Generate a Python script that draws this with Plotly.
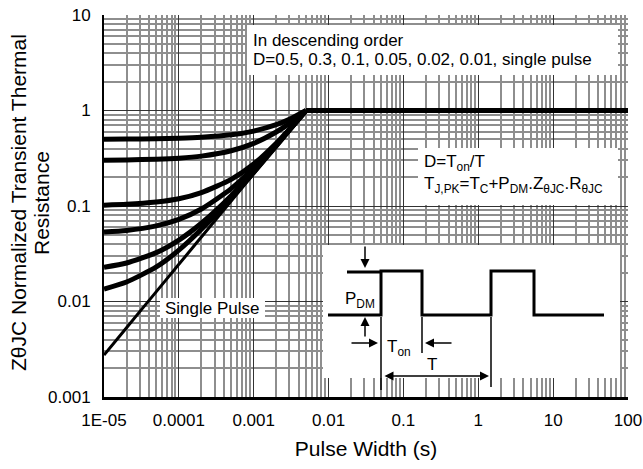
import plotly.graph_objects as go

# ---------------- data ----------------
pulse_width = [1e-5, 2e-5, 5e-5, 1e-4, 2e-4, 5e-4, 1e-3, 2e-3, 3e-3, 5e-3]
z_d050 = [0.501, 0.503, 0.506, 0.512, 0.524, 0.556, 0.609, 0.71, 0.809, 1.0]
z_d030 = [0.302, 0.304, 0.309, 0.317, 0.333, 0.379, 0.453, 0.595, 0.733, 1.0]
z_d010 = [0.102, 0.104, 0.110, 0.119, 0.138, 0.190, 0.275, 0.455, 0.635, 1.0]
z_d005 = [0.0535, 0.0555, 0.062, 0.0725, 0.093, 0.152, 0.25, 0.445, 0.635, 1.0]
z_d002 = [0.0228, 0.0253, 0.0325, 0.044, 0.066, 0.128, 0.232, 0.43, 0.625, 1.0]
z_d001 = [0.0135, 0.016, 0.023, 0.0345, 0.057, 0.121, 0.225, 0.425, 0.621, 1.0]
z_single = [0.00275, 0.00532, 0.0127, 0.0245, 0.0473, 0.113, 0.218, 0.421, 0.618, 1.0]

steady_width = [5e-3, 1e-2, 1e-1, 1, 10, 100]
steady_z = [1.0, 1.0, 1.0, 1.0, 1.0, 1.0]

x_tick_vals = [1e-5, 1e-4, 1e-3, 1e-2, 1e-1, 1, 10, 100]
x_tick_text = ["1E-05", "0.0001", "0.001", "0.01", "0.1", "1", "10", "100"]
y_tick_vals = [0.001, 0.01, 0.1, 1, 10]
y_tick_text = ["0.001", "0.01", "0.1", "1", "10"]

x_minor = [m * 10.0 ** k for k in range(-5, 2) for m in range(2, 10)]
y_minor = [m * 10.0 ** k for k in range(-3, 1) for m in range(2, 10)]

y_title_lines = ["ZθJC Normalized Transient Thermal", "Resistance"]

FONT = "Liberation Sans, Arial, sans-serif"

fig = go.Figure()

series = [z_d050, z_d030, z_d010, z_d005, z_d002, z_d001]
for s in series:
    fig.add_trace(go.Scatter(x=pulse_width, y=s, mode="lines",
                             line=dict(color="black", width=5, shape="spline", smoothing=0.6),
                             hoverinfo="skip"))
fig.add_trace(go.Scatter(x=pulse_width, y=z_single, mode="lines",
                         line=dict(color="black", width=3, shape="spline", smoothing=0.6),
                         hoverinfo="skip"))
fig.add_trace(go.Scatter(x=steady_width, y=steady_z, mode="lines",
                         line=dict(color="black", width=5), hoverinfo="skip"))

# ---------------- pixel -> paper helpers (layout only) ----------------
W, H = 643, 469
PL, PR, PT, PB = 104, 628, 15, 397   # plot area in pixels


def px(x):
    return (x - PL) / (PR - PL)


def py(y):
    return (PB - y) / (PB - PT)


shapes = []


def rect(x0, y0, x1, y1):
    shapes.append(dict(type="rect", xref="paper", yref="paper",
                       x0=px(x0), x1=px(x1), y0=py(y1), y1=py(y0),
                       fillcolor="white", line=dict(width=0), layer="above"))


def seg(x0, y0, x1, y1, w=1.5):
    shapes.append(dict(type="line", xref="paper", yref="paper",
                       x0=px(x0), x1=px(x1), y0=py(y0), y1=py(y1),
                       line=dict(color="black", width=w), layer="above"))


rect(247, 25, 618, 75)
rect(418, 148, 618, 205)
rect(160, 298, 265, 318)
rect(323, 245, 620, 378)

# pulse waveform
wave = [(328, 315), (381, 315), (381, 271), (422, 271), (422, 315), (491, 315),
        (491, 271), (534, 271), (534, 315), (604, 315)]
path = "M " + " L ".join(f"{px(a)},{py(b)}" for a, b in wave)
shapes.append(dict(type="path", xref="paper", yref="paper", path=path,
                   line=dict(color="black", width=3), layer="above"))
seg(347, 272, 381, 272, 3)
seg(381, 317, 381, 390)
seg(422, 317, 422, 353)
seg(491, 317, 491, 387)

annotations = []


def text(x, y, t, anchor="left", size=17, angle=0):
    annotations.append(dict(xref="paper", yref="paper", x=px(x), y=py(y), text=t,
                            showarrow=False, xanchor=anchor, yanchor="middle",
                            textangle=angle,
                            font=dict(family=FONT, size=size, color="black")))


def arrow(tx, ty, sx, sy, both=False):
    a = dict(xref="paper", yref="paper", x=px(tx), y=py(ty), ax=sx - tx, ay=sy - ty,
             text="", showarrow=True, arrowhead=2, arrowsize=1.2, arrowwidth=1.5,
             arrowcolor="black")
    if both:
        a.update(arrowside="end+start", startarrowhead=2, startarrowsize=1.2)
    annotations.append(a)


text(251, 40, "In descending order")
text(251, 59, "D=0.5, 0.3, 0.1, 0.05, 0.02, 0.01, single pulse")
text(422, 163, "D=T<sub>on</sub>/T")
text(422, 185, "T<sub>J,PK</sub>=T<sub>C</sub>+P<sub>DM</sub>.Z<sub>θJC</sub>.R<sub>θJC</sub>")
text(212, 308, "Single Pulse", anchor="center")
text(360, 300, "P<sub>DM</sub>", anchor="center")
text(399, 348, "T<sub>on</sub>", anchor="center")
text(432, 364, "T", anchor="center")

# y-axis title (two rotated lines)
text(18, 203, y_title_lines[0], anchor="center", size=21, angle=-90)
text(41, 203, y_title_lines[1], anchor="center", size=21, angle=-90)

arrow(365, 268, 365, 245)
arrow(365, 317, 365, 338)
arrow(378, 343, 350, 343)
arrow(425, 343, 453, 343)
arrow(489, 376, 383, 376, both=True)

fig.update_layout(
    width=W, height=H,
    margin=dict(l=PL, r=W - PR, t=PT, b=H - PB, autoexpand=False),
    plot_bgcolor="white", paper_bgcolor="white",
    showlegend=False,
    font=dict(family=FONT, size=17, color="black"),
    shapes=shapes, annotations=annotations,
    xaxis=dict(type="log", range=[-5, 2], tickmode="array",
               tickvals=x_tick_vals, ticktext=x_tick_text,
               showgrid=True, gridcolor="#333333", gridwidth=1,
               minor=dict(tickmode="array", tickvals=x_minor, showgrid=True,
                          gridcolor="#8e8e8e", gridwidth=2, ticks=""),
               showline=True, linecolor="black", linewidth=3, ticks="",
               zeroline=False, ticklabelstandoff=6, automargin=False,
               title=dict(text="Pulse Width (s)", font=dict(size=21), standoff=12)),
    yaxis=dict(type="log", range=[-3, 1], tickmode="array",
               tickvals=y_tick_vals, ticktext=y_tick_text,
               showgrid=True, gridcolor="#333333", gridwidth=1,
               minor=dict(tickmode="array", tickvals=y_minor, showgrid=True,
                          gridcolor="#8e8e8e", gridwidth=2, ticks=""),
               showline=True, linecolor="black", linewidth=2, ticks="",
               zeroline=False, ticklabelstandoff=8, automargin=False),
)

# remove the page's default body margin so the 643x469 figure fills the window
fig.write_html("out.html",
               config={"displayModeBar": False},
               post_script="document.body.style.margin='0px';"
                           "document.body.style.overflow='hidden';")
